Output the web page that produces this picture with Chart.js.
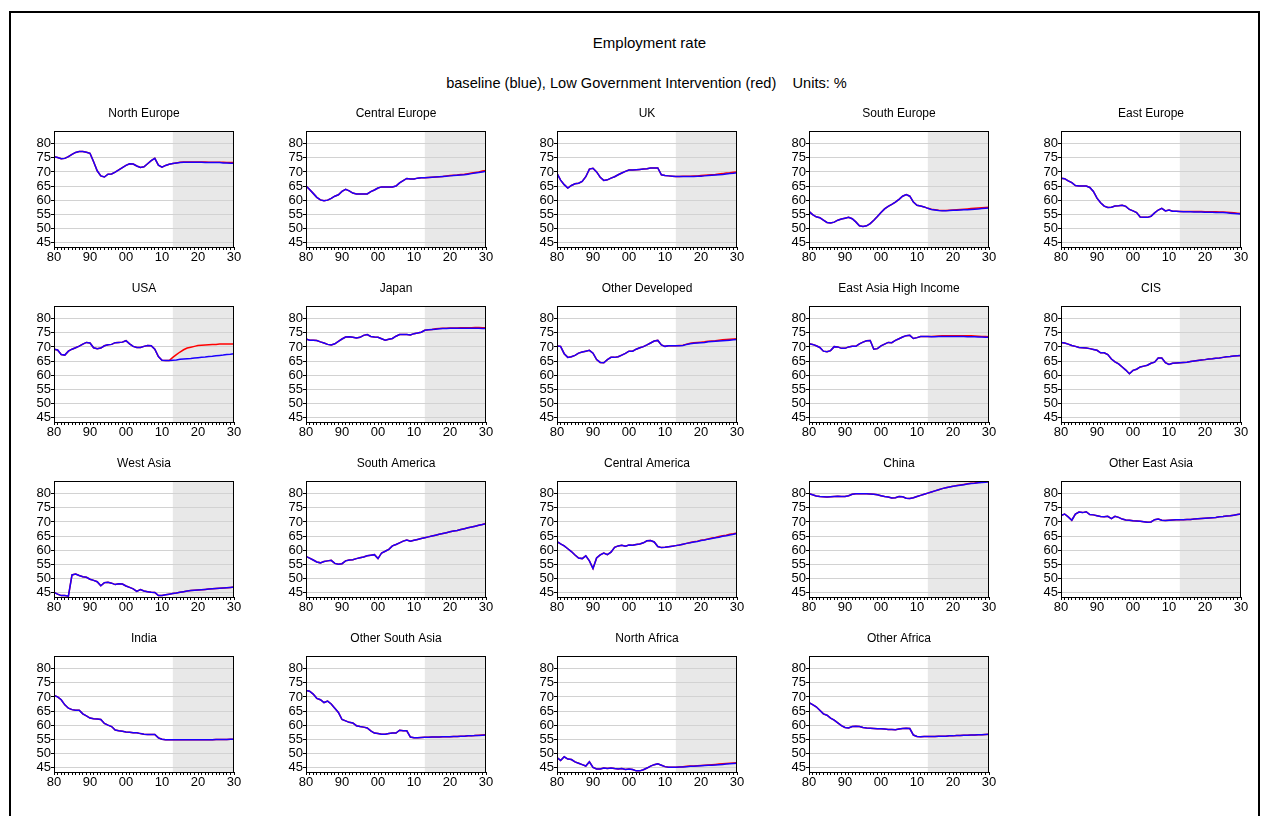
<!DOCTYPE html>
<html>
<head>
<meta charset="utf-8">
<title>Employment rate</title>
<script src="https://cdn.jsdelivr.net/npm/chart.js@4.4.1/dist/chart.umd.min.js"></script>
<style>
  html, body { margin: 0; padding: 0; background: #fff; }
  body { width: 1261px; height: 816px; position: relative; overflow: hidden;
         font-family: "Liberation Sans", Arial, sans-serif; color: #000; }
  #frame { position: absolute; left: 9px; top: 11px; width: 1251px; height: 900px;
           border: 2px solid #000; box-sizing: border-box; }
  #title { position: absolute; left: 19px; width: 1261px; top: 34px; text-align: center;
           font-size: 15px; line-height: 17px; }
  #subtitle { position: absolute; left: 16px; width: 1261px; top: 75px; text-align: center;
              font-size: 14.6px; line-height: 17px; white-space: pre; }
  canvas { position: absolute; }
</style>
</head>
<body>
<div id="frame"></div>
<div id="title">Employment rate</div>
<div id="subtitle">baseline (blue), Low Government Intervention (red)    Units: %</div>
<script>
// Years 1980..2030; history runs to 2012, projections 2013..2030
const years = [
  1980,1981,1982,1983,1984,1985,1986,1987,1988,1989,
  1990,1991,1992,1993,1994,1995,1996,1997,1998,1999,
  2000,2001,2002,2003,2004,2005,2006,2007,2008,2009,
  2010,2011,2012,2013,2014,2015,2016,2017,2018,2019,
  2020,2021,2022,2023,2024,2025,2026,2027,2028,2029,2030
];
const yTicks = [45, 50, 55, 60, 65, 70, 75, 80];
const shadeFrom = 2013;
const shadeTo = 2030;

// ---- North Europe
const northEuropeHist = [75.4,75.1,74.7,74.8,75.4,76.2,76.9,77.2,77.2,77.0,76.6,73.6,70.4,68.6,68.2,69.2,69.3,69.9,70.7,71.5,72.3,72.9,72.8,72.1,71.6,71.8,72.9,74.0,74.8,72.4,71.7,72.3,72.7];
const northEuropeBase = [73.0,73.2,73.3,73.4,73.4,73.4,73.4,73.4,73.4,73.3,73.3,73.3,73.3,73.3,73.2,73.2,73.1,73.1];
const northEuropeLow  = [73.0,73.2,73.4,73.5,73.5,73.5,73.5,73.5,73.5,73.5,73.4,73.4,73.4,73.4,73.4,73.3,73.3,73.3];
// ---- Central Europe
const centralEuropeHist = [65.0,63.8,62.4,61.0,60.1,59.8,60.0,60.6,61.4,61.9,63.1,63.8,63.3,62.5,62.2,62.2,62.2,62.2,63.0,63.6,64.3,64.7,64.7,64.7,64.7,65.0,66.1,66.9,67.7,67.5,67.5,67.8,67.9];
const centralEuropeBase = [67.9,68.0,68.1,68.2,68.3,68.4,68.5,68.6,68.7,68.8,68.9,69.0,69.2,69.4,69.6,69.8,70.0,70.2];
const centralEuropeLow  = [67.9,68.0,68.1,68.2,68.3,68.4,68.6,68.7,68.8,68.9,69.1,69.2,69.4,69.6,69.8,70.0,70.3,70.5];
// ---- UK
const ukHist = [69.5,67.1,65.5,64.3,65.2,65.8,66.0,66.6,68.3,71.0,71.3,70.0,68.1,67.0,67.2,67.8,68.3,69.0,69.6,70.2,70.7,70.7,70.8,70.9,71.0,71.1,71.4,71.4,71.4,69.0,68.7,68.6,68.5];
const ukBase = [68.4,68.4,68.4,68.4,68.4,68.4,68.5,68.5,68.6,68.7,68.8,68.9,69.0,69.1,69.3,69.4,69.5,69.7];
const ukLow  = [68.4,68.4,68.5,68.5,68.5,68.6,68.6,68.7,68.8,68.9,69.0,69.1,69.3,69.4,69.6,69.7,69.9,70.0];
// ---- South Europe
const southEuropeHist = [56.0,54.9,54.1,53.8,52.9,52.1,51.9,52.2,52.9,53.3,53.6,53.9,53.4,52.3,50.9,50.7,50.9,51.7,52.9,54.2,55.6,56.9,57.8,58.5,59.3,60.3,61.4,62.0,61.4,59.3,58.2,57.9,57.6];
const southEuropeBase = [57.1,56.7,56.5,56.3,56.2,56.2,56.3,56.4,56.4,56.5,56.6,56.6,56.7,56.8,56.9,57.0,57.1,57.2];
const southEuropeLow  = [57.1,56.8,56.6,56.4,56.3,56.3,56.4,56.5,56.6,56.7,56.8,56.9,57.0,57.1,57.2,57.3,57.4,57.5];
// ---- East Europe
const eastEuropeHist = [67.8,67.6,66.8,66.2,65.2,65.0,65.0,65.0,64.5,63.1,60.7,59.1,57.9,57.4,57.5,57.9,58.0,58.2,57.8,56.7,56.2,55.6,54.0,53.9,53.9,54.3,55.5,56.5,57.1,56.2,56.5,56.1,56.1];
const eastEuropeBase = [56.0,55.9,55.9,55.9,55.8,55.8,55.8,55.7,55.7,55.7,55.6,55.6,55.6,55.5,55.4,55.3,55.2,55.1];
const eastEuropeLow  = [56.0,56.0,56.0,56.0,56.0,56.0,56.0,55.9,55.9,55.9,55.9,55.8,55.8,55.7,55.6,55.5,55.4,55.3];
// ---- USA
const usaHist = [69.2,68.9,67.3,67.1,68.5,69.2,69.7,70.3,71.0,71.6,71.4,69.7,69.4,69.6,70.4,70.8,70.9,71.5,71.6,71.7,72.2,71.1,70.2,69.8,69.8,70.2,70.5,70.4,69.2,66.6,65.3,65.2,65.2];
const usaBase = [65.3,65.4,65.6,65.7,65.8,65.9,66.1,66.2,66.3,66.4,66.6,66.7,66.9,67.0,67.1,67.3,67.4,67.6];
const usaLow  = [66.3,67.3,68.2,69.0,69.6,69.9,70.2,70.5,70.6,70.7,70.8,70.9,70.9,71.0,71.0,71.0,71.0,71.0];
// ---- Japan
const japanHist = [72.8,72.4,72.4,72.3,71.8,71.4,70.9,70.7,71.1,72.0,72.8,73.5,73.6,73.4,73.2,73.4,74.1,74.4,73.7,73.5,73.4,72.9,72.4,72.7,73.0,73.8,74.4,74.4,74.4,74.2,74.7,74.9,75.2];
const japanBase = [75.9,76.1,76.2,76.3,76.4,76.5,76.5,76.6,76.6,76.6,76.6,76.6,76.6,76.6,76.6,76.6,76.5,76.5];
const japanLow  = [75.9,76.1,76.2,76.4,76.5,76.6,76.6,76.7,76.7,76.7,76.8,76.8,76.8,76.8,76.9,76.9,76.8,76.8];
// ---- Other Developed
const otherDevelopedHist = [70.3,70.2,67.6,66.3,66.5,67.0,67.8,68.2,68.5,68.8,67.8,65.5,64.5,64.4,65.5,66.3,66.3,66.5,67.1,67.7,68.5,68.5,69.2,69.7,70.1,70.7,71.4,72.1,72.3,70.7,70.2,70.4,70.4];
const otherDevelopedBase = [70.4,70.4,70.5,70.9,71.1,71.3,71.4,71.5,71.6,71.8,71.9,72.0,72.1,72.2,72.3,72.4,72.5,72.6];
const otherDevelopedLow  = [70.4,70.5,70.6,71.0,71.3,71.5,71.6,71.7,71.8,72.0,72.1,72.2,72.4,72.5,72.6,72.7,72.8,72.9];
// ---- East Asia High Income
const eastAsiaHighHist = [71.1,70.9,70.4,69.8,68.5,68.3,68.7,70.1,70.0,69.5,69.5,70.0,70.2,70.2,71.1,71.7,72.2,72.3,69.2,69.4,70.4,71.0,71.6,71.5,72.3,72.9,73.5,74.0,74.1,73.0,73.3,73.7,73.7];
const eastAsiaHighBase = [73.7,73.6,73.6,73.7,73.7,73.7,73.7,73.7,73.7,73.7,73.7,73.6,73.6,73.6,73.5,73.5,73.4,73.4];
const eastAsiaHighLow  = [73.7,73.7,73.8,73.9,74.0,74.0,74.0,74.0,74.0,74.0,74.0,74.0,74.0,73.9,73.8,73.7,73.7,73.6];
// ---- CIS
const cisHist = [71.6,71.4,71.0,70.5,70.2,69.8,69.7,69.6,69.4,69.1,68.8,67.9,67.9,67.3,65.7,64.7,64.0,62.9,61.8,60.5,61.7,62.1,62.9,63.2,63.5,64.2,64.6,66.1,66.1,64.4,63.8,64.2,64.3];
const cisBase = [64.4,64.5,64.6,64.8,65.0,65.2,65.4,65.5,65.7,65.8,66.0,66.1,66.3,66.5,66.6,66.8,66.9,67.0];
const cisLow  = [64.4,64.5,64.6,64.8,65.0,65.2,65.4,65.5,65.7,65.8,66.0,66.1,66.3,66.5,66.6,66.8,66.9,67.0];
// ---- West Asia
const westAsiaHist = [45.0,44.4,43.9,43.9,43.7,51.2,51.5,51.0,50.6,50.4,49.7,49.3,48.8,47.4,48.5,48.6,48.3,47.8,48.1,48.0,47.3,46.8,46.3,45.4,46.0,45.5,45.3,45.1,45.0,43.9,43.9,44.2,44.4];
const westAsiaBase = [44.6,44.8,45.1,45.3,45.5,45.7,45.8,45.9,46.0,46.1,46.2,46.3,46.4,46.5,46.6,46.7,46.8,46.9];
const westAsiaLow  = [44.6,44.8,45.1,45.3,45.5,45.7,45.8,45.9,46.0,46.1,46.2,46.3,46.4,46.5,46.6,46.7,46.8,46.9];
// ---- South America
const southAmericaHist = [57.8,57.2,56.5,55.8,55.5,56.0,56.2,56.4,55.3,55.0,55.2,56.2,56.5,56.6,57.0,57.3,57.6,58.0,58.2,58.4,57.0,59.0,59.6,60.3,61.5,62.0,62.6,63.2,63.6,63.2,63.5,63.8,64.1];
const southAmericaBase = [64.4,64.7,65.0,65.3,65.6,65.9,66.2,66.5,66.8,67.0,67.3,67.6,67.9,68.2,68.5,68.8,69.1,69.4];
const southAmericaLow  = [64.4,64.7,65.0,65.3,65.6,65.9,66.2,66.5,66.8,67.0,67.3,67.6,67.9,68.2,68.5,68.8,69.1,69.5];
// ---- Central America
const centralAmericaHist = [63.0,62.2,61.5,60.5,59.5,58.3,57.2,57.0,58.0,56.2,53.5,57.2,58.3,59.0,58.4,59.3,61.0,61.5,61.7,61.4,61.8,61.7,62.0,62.2,62.6,63.3,63.4,62.9,61.3,60.9,61.0,61.2,61.4];
const centralAmericaBase = [61.6,61.8,62.1,62.4,62.6,62.9,63.1,63.4,63.6,63.9,64.1,64.4,64.6,64.9,65.1,65.4,65.6,65.9];
const centralAmericaLow  = [61.6,61.8,62.1,62.4,62.7,63.0,63.2,63.5,63.7,64.0,64.3,64.5,64.8,65.1,65.3,65.6,65.8,66.1];
// ---- China
const chinaHist = [80.0,79.6,79.2,79.0,78.9,78.8,78.9,79.0,79.1,79.0,79.0,79.3,79.8,80.0,80.0,80.0,80.0,79.9,79.8,79.6,79.3,79.0,78.8,78.5,78.6,79.0,78.9,78.4,78.3,78.6,79.0,79.4,79.8];
const chinaBase = [80.2,80.6,81.0,81.4,81.8,82.1,82.4,82.6,82.8,83.0,83.2,83.4,83.6,83.7,83.9,84.0,84.1,84.2];
const chinaLow  = [80.2,80.6,81.0,81.4,81.8,82.1,82.4,82.6,82.9,83.1,83.3,83.5,83.7,83.8,84.0,84.1,84.2,84.3];
// ---- Other East Asia
const otherEastAsiaHist = [72.3,72.8,71.8,70.6,72.8,73.5,73.3,73.6,72.6,72.5,72.2,71.9,71.8,72.0,71.2,72.0,71.6,71.0,70.7,70.6,70.4,70.3,70.2,70.1,69.9,70.0,70.8,71.0,70.6,70.5,70.6,70.7,70.8];
const otherEastAsiaBase = [70.8,70.8,70.9,70.9,71.0,71.1,71.2,71.3,71.4,71.5,71.6,71.8,71.9,72.1,72.2,72.4,72.6,72.8];
const otherEastAsiaLow  = [70.8,70.8,70.9,70.9,71.0,71.1,71.2,71.3,71.4,71.5,71.6,71.8,71.9,72.1,72.2,72.4,72.6,72.8];
// ---- India
const indiaHist = [70.5,70.0,69.0,67.2,66.0,65.5,65.3,65.3,64.0,63.3,62.5,62.3,62.2,62.0,60.6,60.0,59.5,58.3,58.0,57.8,57.6,57.5,57.3,57.3,57.0,56.8,56.7,56.7,56.7,55.5,55.0,54.8,54.8];
const indiaBase = [54.8,54.8,54.8,54.8,54.8,54.8,54.8,54.8,54.8,54.8,54.8,54.8,54.9,54.9,54.9,54.9,55.0,55.0];
const indiaLow  = [54.8,54.8,54.8,54.8,54.8,54.8,54.8,54.8,54.8,54.8,54.8,54.8,54.9,54.9,54.9,54.9,55.0,55.0];
// ---- Other South Asia
const otherSouthAsiaHist = [72.3,72.0,71.0,69.5,69.0,68.0,68.5,67.5,66.0,64.5,62.0,61.5,61.0,60.8,59.8,59.5,59.3,59.0,58.0,57.2,57.0,56.8,56.8,57.0,57.2,57.2,58.2,58.0,58.0,55.8,55.5,55.5,55.6];
const otherSouthAsiaBase = [55.7,55.7,55.8,55.8,55.8,55.9,55.9,55.9,56.0,56.0,56.1,56.1,56.2,56.2,56.3,56.3,56.4,56.5];
const otherSouthAsiaLow  = [55.7,55.7,55.8,55.8,55.8,55.9,55.9,55.9,56.0,56.0,56.1,56.1,56.2,56.2,56.3,56.4,56.5,56.6];
// ---- North Africa
const northAfricaHist = [48.5,47.5,48.8,48.0,47.8,47.0,46.5,46.0,45.5,47.0,45.0,44.5,44.5,44.8,44.6,44.8,44.6,44.5,44.6,44.3,44.5,44.3,43.8,43.8,44.2,44.8,45.5,46.0,46.3,45.8,45.3,45.1,45.1];
const northAfricaBase = [45.1,45.2,45.2,45.3,45.4,45.4,45.5,45.6,45.7,45.8,45.8,45.9,46.0,46.1,46.2,46.3,46.4,46.5];
const northAfricaLow  = [45.1,45.2,45.3,45.4,45.5,45.5,45.6,45.7,45.8,45.9,46.0,46.1,46.2,46.3,46.4,46.5,46.6,46.7];
// ---- Other Africa
const otherAfricaHist = [68.0,67.3,66.5,65.3,64.0,63.5,62.5,61.8,60.8,59.8,59.2,59.0,59.5,59.6,59.5,59.2,59.0,58.9,58.8,58.7,58.7,58.6,58.5,58.5,58.4,58.6,58.8,58.9,58.8,56.5,56.0,55.9,56.0];
const otherAfricaBase = [56.0,56.0,56.0,56.1,56.1,56.1,56.2,56.2,56.3,56.3,56.4,56.4,56.5,56.5,56.6,56.6,56.7,56.8];
const otherAfricaLow  = [56.0,56.0,56.0,56.1,56.1,56.1,56.2,56.2,56.3,56.3,56.4,56.4,56.5,56.5,56.6,56.6,56.7,56.8];

const panels = [
  { title: 'North Europe', hist: northEuropeHist, base: northEuropeBase, low: northEuropeLow },
  { title: 'Central Europe', hist: centralEuropeHist, base: centralEuropeBase, low: centralEuropeLow },
  { title: 'UK', hist: ukHist, base: ukBase, low: ukLow },
  { title: 'South Europe', hist: southEuropeHist, base: southEuropeBase, low: southEuropeLow },
  { title: 'East Europe', hist: eastEuropeHist, base: eastEuropeBase, low: eastEuropeLow },
  { title: 'USA', hist: usaHist, base: usaBase, low: usaLow },
  { title: 'Japan', hist: japanHist, base: japanBase, low: japanLow },
  { title: 'Other Developed', hist: otherDevelopedHist, base: otherDevelopedBase, low: otherDevelopedLow },
  { title: 'East Asia High Income', hist: eastAsiaHighHist, base: eastAsiaHighBase, low: eastAsiaHighLow },
  { title: 'CIS', hist: cisHist, base: cisBase, low: cisLow },
  { title: 'West Asia', hist: westAsiaHist, base: westAsiaBase, low: westAsiaLow },
  { title: 'South America', hist: southAmericaHist, base: southAmericaBase, low: southAmericaLow },
  { title: 'Central America', hist: centralAmericaHist, base: centralAmericaBase, low: centralAmericaLow },
  { title: 'China', hist: chinaHist, base: chinaBase, low: chinaLow },
  { title: 'Other East Asia', hist: otherEastAsiaHist, base: otherEastAsiaBase, low: otherEastAsiaLow },
  { title: 'India', hist: indiaHist, base: indiaBase, low: indiaLow },
  { title: 'Other South Asia', hist: otherSouthAsiaHist, base: otherSouthAsiaBase, low: otherSouthAsiaLow },
  { title: 'North Africa', hist: northAfricaHist, base: northAfricaBase, low: northAfricaLow },
  { title: 'Other Africa', hist: otherAfricaHist, base: otherAfricaBase, low: otherAfricaLow }
];

// Grid geometry: left edge of each column's plot area and top of each row's
const COL_LEFT = [54, 306, 557, 809, 1061];
const ROW_TOP = [131, 306, 481, 656];
const AXIS_W = 40, TITLE_H = 31, AXIS_H = 18, PLOT_W = 180, PLOT_H = 116, PAD_R = 12;

const FONT = '"Liberation Sans", Arial, sans-serif';
Chart.defaults.font.family = FONT;
Chart.defaults.color = '#000';

// Shaded forecast band, plot frame and panel title
const panelDecor = {
  id: 'panelDecor',
  beforeDraw(chart) {
    const { ctx, chartArea: a, scales: { x } } = chart;
    const x0 = x.getPixelForValue(shadeFrom);
    const x1 = x.getPixelForValue(shadeTo);
    ctx.save();
    ctx.fillStyle = '#e8e8e8';
    ctx.fillRect(x0, a.top, x1 - x0, a.bottom - a.top);
    ctx.restore();
  },
  afterDraw(chart, args, opts) {
    const { ctx, chartArea: a } = chart;
    ctx.save();
    ctx.strokeStyle = '#000';
    ctx.lineWidth = 1;
    ctx.strokeRect(Math.round(a.left) + 0.5, Math.round(a.top) + 0.5,
                   Math.round(a.right - a.left) - 1, Math.round(a.bottom - a.top));
    ctx.fillStyle = '#000';
    ctx.font = '12px ' + FONT;
    ctx.textAlign = 'center';
    ctx.textBaseline = 'alphabetic';
    ctx.fillText(opts.text, (a.left + a.right) / 2, a.top - 14);
    ctx.restore();
  }
};

panels.forEach((p, i) => {
  const col = i % 5, row = Math.floor(i / 5);
  const canvas = document.createElement('canvas');
  const w = AXIS_W + PLOT_W + PAD_R, h = TITLE_H + PLOT_H + AXIS_H;
  canvas.width = w; canvas.height = h;
  canvas.style.width = w + 'px'; canvas.style.height = h + 'px';
  canvas.style.left = (COL_LEFT[col] - AXIS_W) + 'px';
  canvas.style.top = (ROW_TOP[row] - TITLE_H) + 'px';
  document.body.appendChild(canvas);

  new Chart(canvas, {
    type: 'line',
    data: {
      labels: years,
      datasets: [
        { label: 'baseline', data: p.hist.concat(p.base), borderColor: '#1a00ff',
          borderWidth: 1.5, pointRadius: 0, tension: 0, order: 0 },
        { label: 'Low Government Intervention', data: p.hist.concat(p.low), borderColor: '#ff0000',
          borderWidth: 1.5, pointRadius: 0, tension: 0, order: 1 }
      ]
    },
    options: {
      responsive: false,
      animation: false,
      devicePixelRatio: 1,
      layout: { padding: { left: 0, top: TITLE_H, right: PAD_R, bottom: 0 } },
      plugins: {
        legend: { display: false },
        tooltip: { enabled: false },
        title: { display: false },
        panelDecor: { text: p.title }
      },
      scales: {
        x: {
          type: 'linear', min: 1980, max: 2030,
          afterBuildTicks: s => { s.ticks = years.map(v => ({ value: v })); },
          afterFit: s => { s.height = AXIS_H; },
          ticks: {
            autoSkip: false, maxRotation: 0, minRotation: 0, padding: 0,
            font: { size: 13 }, color: '#000',
            callback: v => (v % 10 === 0 ? String(v % 100).padStart(2, '0') : '')
          },
          grid: { drawOnChartArea: false, drawTicks: true, tickLength: 3, tickColor: '#000' },
          border: { display: true, color: '#000', width: 1 }
        },
        y: {
          min: 43.4, max: 84.5,
          afterBuildTicks: s => { s.ticks = yTicks.map(v => ({ value: v })); },
          afterFit: s => { s.width = AXIS_W; },
          ticks: { autoSkip: false, padding: 0, font: { size: 13 }, color: '#000' },
          grid: { color: '#d2d2d2', lineWidth: 1, tickLength: 3, tickColor: '#000' },
          border: { display: true, color: '#000', width: 1 }
        }
      }
    },
    plugins: [panelDecor]
  });
});
</script>
</body>
</html>
